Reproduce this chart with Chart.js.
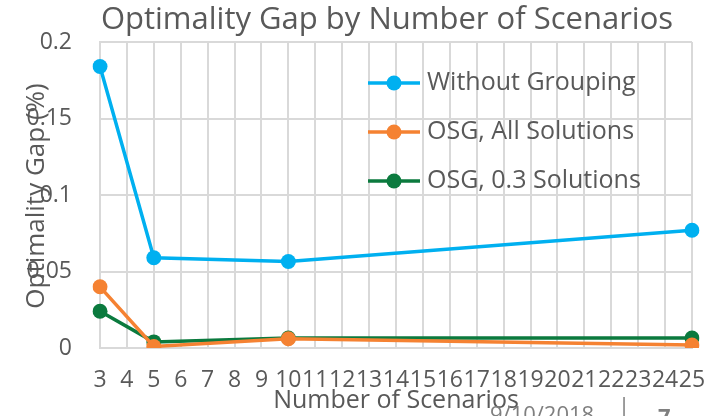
<!DOCTYPE html>
<html>
<head>
<meta charset="utf-8">
<script src="https://cdn.jsdelivr.net/npm/chart.js@4.4.1/dist/chart.umd.min.js"></script>
<style>
  html, body { margin: 0; padding: 0; background: #ffffff; }
  #wrap { width: 707px; height: 416px; position: relative; }
</style>
</head>
<body>
<div id="wrap"><canvas id="gapChart" width="707" height="416"></canvas></div>
<script>
// scenario counts on the x axis
const scenarioLabels = ["3","4","5","6","7","8","9","10","11","12","13","14","15","16","17","18","19","20","21","22","23","24","25"];

// optimality gap (%) per scenario count, only 3, 5, 10 and 25 were run
const withoutGrouping  = { 3: 0.184, 5: 0.059, 10: 0.0565, 25: 0.077 };
const osgAllSolutions  = { 3: 0.040, 5: 0.001, 10: 0.006,  25: 0.002 };
const osgPointThree    = { 3: 0.024, 5: 0.004, 10: 0.0065, 25: 0.0065 };

const yTicks = [0, 0.05, 0.1, 0.15, 0.2];

const textColor = '#595959';
const gridColor = '#d9d9d9';
const fontFamily = '"Open Sans", Lato, sans-serif';

function toSeries(points) {
    return scenarioLabels.map(l => (points[l] === undefined ? null : points[l]));
}

function lineDataset(label, points, color) {
    return {
        label: label,
        data: toSeries(points),
        borderColor: color,
        backgroundColor: color,
        borderWidth: 3.5,
        pointRadius: 7.5,
        pointHoverRadius: 7.5,
        pointBorderWidth: 0,
        spanGaps: true,
        tension: 0
    };
}

// title, y title, legend and footer are painted by hand so they can sit where the slide had them
const overlayText = {
    id: 'overlayText',
    afterDraw(chart) {
        const ctx = chart.ctx;
        ctx.save();

        // chart title
        ctx.fillStyle = textColor;
        ctx.font = '31px ' + fontFamily;
        ctx.textAlign = 'center';
        ctx.textBaseline = 'middle';
        ctx.fillText('Optimality Gap by Number of Scenarios', 387, 20);

        // y axis title, overlapping the tick labels
        ctx.save();
        ctx.translate(37, 196);
        ctx.rotate(-Math.PI / 2);
        ctx.font = '26px ' + fontFamily;
        ctx.fillText('Optimality Gap (%)', 0, 0);
        ctx.restore();

        // legend inside the plot
        const lx = 368, ly = 83, rowGap = 49;
        chart.data.datasets.forEach((ds, i) => {
            const y = ly + i * rowGap;
            ctx.strokeStyle = ds.borderColor;
            ctx.lineWidth = 3.5;
            ctx.beginPath();
            ctx.moveTo(lx, y);
            ctx.lineTo(lx + 52, y);
            ctx.stroke();
            ctx.fillStyle = ds.backgroundColor;
            ctx.beginPath();
            ctx.arc(lx + 26, y, 7.5, 0, Math.PI * 2);
            ctx.fill();
            ctx.fillStyle = textColor;
            ctx.font = '25px ' + fontFamily;
            ctx.textAlign = 'left';
            ctx.fillText(ds.label, lx + 59, y);
        });

        // slide footer, cut by the bottom edge
        ctx.fillStyle = '#7f7f7f';
        ctx.font = '22px ' + fontFamily;
        ctx.textAlign = 'left';
        ctx.textBaseline = 'top';
        ctx.fillText('9/10/2018', 490, 405);
        ctx.fillText('|', 618, 396);
        ctx.font = 'bold 22px ' + fontFamily;
        ctx.fillText('7', 658, 407);

        ctx.restore();
    }
};

const chart = new Chart(document.getElementById('gapChart'), {
    type: 'line',
    data: {
        labels: scenarioLabels,
        datasets: [
            lineDataset('Without Grouping', withoutGrouping, '#00b0f0'),
            lineDataset('OSG, All Solutions', osgAllSolutions, '#f58232'),
            lineDataset('OSG, 0.3 Solutions', osgPointThree, '#0b7a3e')
        ]
    },
    options: {
        responsive: false,
        animation: false,
        layout: { autoPadding: false, padding: { left: 0, right: 15, top: 42, bottom: 0 } },
        plugins: {
            legend: { display: false },
            title: { display: false },
            tooltip: { enabled: false }
        },
        scales: {
            x: {
                offset: false,
                grid: { color: gridColor, lineWidth: 2, drawTicks: false },
                border: { color: gridColor, width: 2 },
                ticks: {
                    autoSkip: false,
                    maxRotation: 0,
                    minRotation: 0,
                    padding: 19,
                    color: textColor,
                    font: { family: fontFamily, size: 23 }
                },
                title: {
                    display: true,
                    text: 'Number of Scenarios',
                    color: textColor,
                    font: { family: fontFamily, size: 25 },
                    padding: { top: -8, bottom: 0 }
                },
                afterFit(scale) {
                    scale.height = 68;
                    scale.paddingLeft = 0;
                    scale.paddingRight = 0;
                }
            },
            y: {
                min: 0,
                max: 0.2,
                afterBuildTicks(scale) { scale.ticks = yTicks.map(v => ({ value: v })); },
                grid: { color: gridColor, lineWidth: 2, drawTicks: false },
                border: { color: gridColor, width: 2 },
                ticks: {
                    padding: 28,
                    color: textColor,
                    font: { family: fontFamily, size: 23 },
                    callback: v => String(v)
                },
                afterFit(scale) { scale.width = 100; }
            }
        }
    },
    plugins: [overlayText]
});
</script>
</body>
</html>
